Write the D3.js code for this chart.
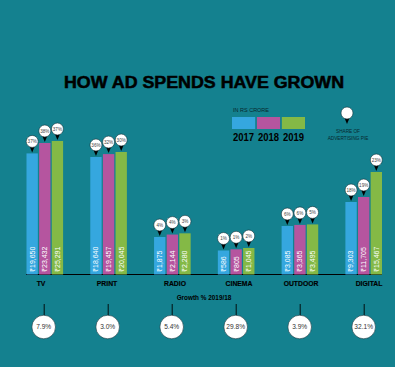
<!DOCTYPE html>
<html><head><meta charset="utf-8">
<script src="https://cdn.jsdelivr.net/npm/d3@7/dist/d3.min.js"></script>
<style>html,body{margin:0;padding:0;background:#14818f}svg{display:block}text{font-family:"Liberation Sans",Arial,sans-serif}</style>
</head><body><svg id="c" width="395" height="367"></svg>
<script>
const categories=["TV","PRINT","RADIO","CINEMA","OUTDOOR","DIGITAL"];
const years=["2017","2018","2019"];
const spend2017=[19650,18640,1875,586,3085,9303];
const spend2018=[23432,19457,2144,805,3365,11705];
const spend2019=[25291,20045,2280,1045,3495,15467];
const share2017=[37,36,4,1,6,18];
const share2018=[38,32,4,1,6,19];
const share2019=[37,30,3,2,5,23];
const growth=["7.9%","3.0%","5.4%","29.8%","3.9%","32.1%"];
const colors=["#35a7df","#b5559f","#84b946"];
const series=[spend2017,spend2018,spend2019];
const shares=[share2017,share2018,share2019];

const baseY=274.5;
const svg=d3.select("#c");
// The source's bars are not drawn to a linear scale: this polylinear scale follows its drawn heights.
const y=d3.scaleLinear()
 .domain([0,586,1045,1875,3085,9303,11705,15467,18640,20045,23432,25291])
 .range([baseY,250.5,248,237,226,202,197,172,157,152,143,141]);
const x0=d3.scaleBand().domain(categories).range([26.5,382]).paddingInner(0.426).paddingOuter(0);
const x1=d3.scaleBand().domain(years).range([0,x0.bandwidth()]).paddingInner(0.1);
const labelX=d3.scaleOrdinal(categories,[41,107,175,239,301,369]);
const fmt=d3.format(",");

svg.append("text").attr("x",204).attr("y",88).attr("text-anchor","middle")
 .attr("font-size",16).attr("font-weight",700).attr("fill","#000").attr("stroke","#000").attr("stroke-width",0.5)
 .attr("textLength",280).attr("lengthAdjust","spacingAndGlyphs").text("HOW AD SPENDS HAVE GROWN");

// Legend
const lx=d3.scaleBand().domain(years).range([232,305]).paddingInner(0.07);
svg.append("text").attr("x",233).attr("y",111.5).attr("font-size",5.6).attr("fill","#07282e")
 .attr("textLength",36).attr("lengthAdjust","spacingAndGlyphs").text("IN RS CRORE");
years.forEach((yr,i)=>{
 svg.append("rect").attr("x",lx(yr)).attr("y",117).attr("width",lx.bandwidth()).attr("height",12).attr("fill",colors[i]);
 svg.append("text").attr("x",lx(yr)+lx.bandwidth()/2).attr("y",140.5).attr("text-anchor","middle")
  .attr("font-size",10.5).attr("font-weight",700).attr("fill","#000").attr("textLength",21).attr("lengthAdjust","spacingAndGlyphs").text(yr);
});

function pin(g,cx,top,label){
 const cy=top-12;
 g.append("path").attr("d",d3.line()([[cx-2.7,top-7.5],[cx+2.7,top-7.5],[cx,top-1]])+"Z").attr("fill","#000");
 g.append("circle").attr("cx",cx).attr("cy",cy).attr("r",6).attr("fill","#fff").attr("stroke","#12333a").attr("stroke-width",0.6);
 if(label) g.append("text").attr("x",cx).attr("y",cy+1.7).attr("text-anchor","middle").attr("font-size",4.6).attr("fill","#444").text(label);
}

// Legend pin
pin(svg,347,125,null);
["SHARE OF","ADVERTISING PIE"].forEach((t,i)=>svg.append("text").attr("x",348).attr("y",132.5+i*7)
 .attr("text-anchor","middle").attr("font-size",4.7).attr("fill","#07282e").text(t));

// Baseline
svg.append("line").attr("x1",26).attr("x2",382).attr("y1",baseY).attr("y2",baseY).attr("stroke","#000").attr("stroke-width",1);

categories.forEach((c,ci)=>{
 const g=svg.append("g").attr("transform",`translate(${x0(c)},0)`);
 years.forEach((yr,si)=>{
  const v=series[si][ci],bx=x1(yr),bw=x1.bandwidth(),cx=bx+bw/2;
  g.append("rect").attr("x",bx).attr("y",y(v)).attr("width",bw).attr("height",baseY-y(v)).attr("fill",colors[si]);
  pin(g,cx,y(v),shares[si][ci]+"%");
  g.append("text").attr("transform",`translate(${cx+2.4},${baseY-2.5}) rotate(-90)`)
   .attr("font-size",7).attr("font-weight",500).attr("fill","#fff").attr("font-family","'Noto Sans','DejaVu Sans',sans-serif").text("₹"+fmt(v));
 });
 svg.append("text").attr("x",labelX(c)).attr("y",285.5).attr("text-anchor","middle")
  .attr("font-size",6.8).attr("font-weight",700).attr("fill","#000").attr("stroke","#000").attr("stroke-width",0.15).text(c);
});

svg.append("text").attr("x",204).attr("y",300).attr("text-anchor","middle").attr("font-size",6.4).attr("font-weight",700).attr("fill","#000").text("Growth % 2019/18");

const gx=d3.scalePoint().domain(categories).range([43.7,363.7]);
categories.forEach((c,i)=>{
 const cx=gx(c);
 svg.append("line").attr("x1",cx+.5).attr("x2",cx+.5).attr("y1",304).attr("y2",316).attr("stroke","#000").attr("stroke-width",0.9);
 svg.append("circle").attr("cx",cx).attr("cy",327).attr("r",11.8).attr("fill","#fff").attr("stroke","#12333a").attr("stroke-width",0.6);
 svg.append("text").attr("x",cx).attr("y",329.4).attr("text-anchor","middle").attr("font-size",6.6).attr("fill","#333").text(growth[i]);
});
</script></body></html>
